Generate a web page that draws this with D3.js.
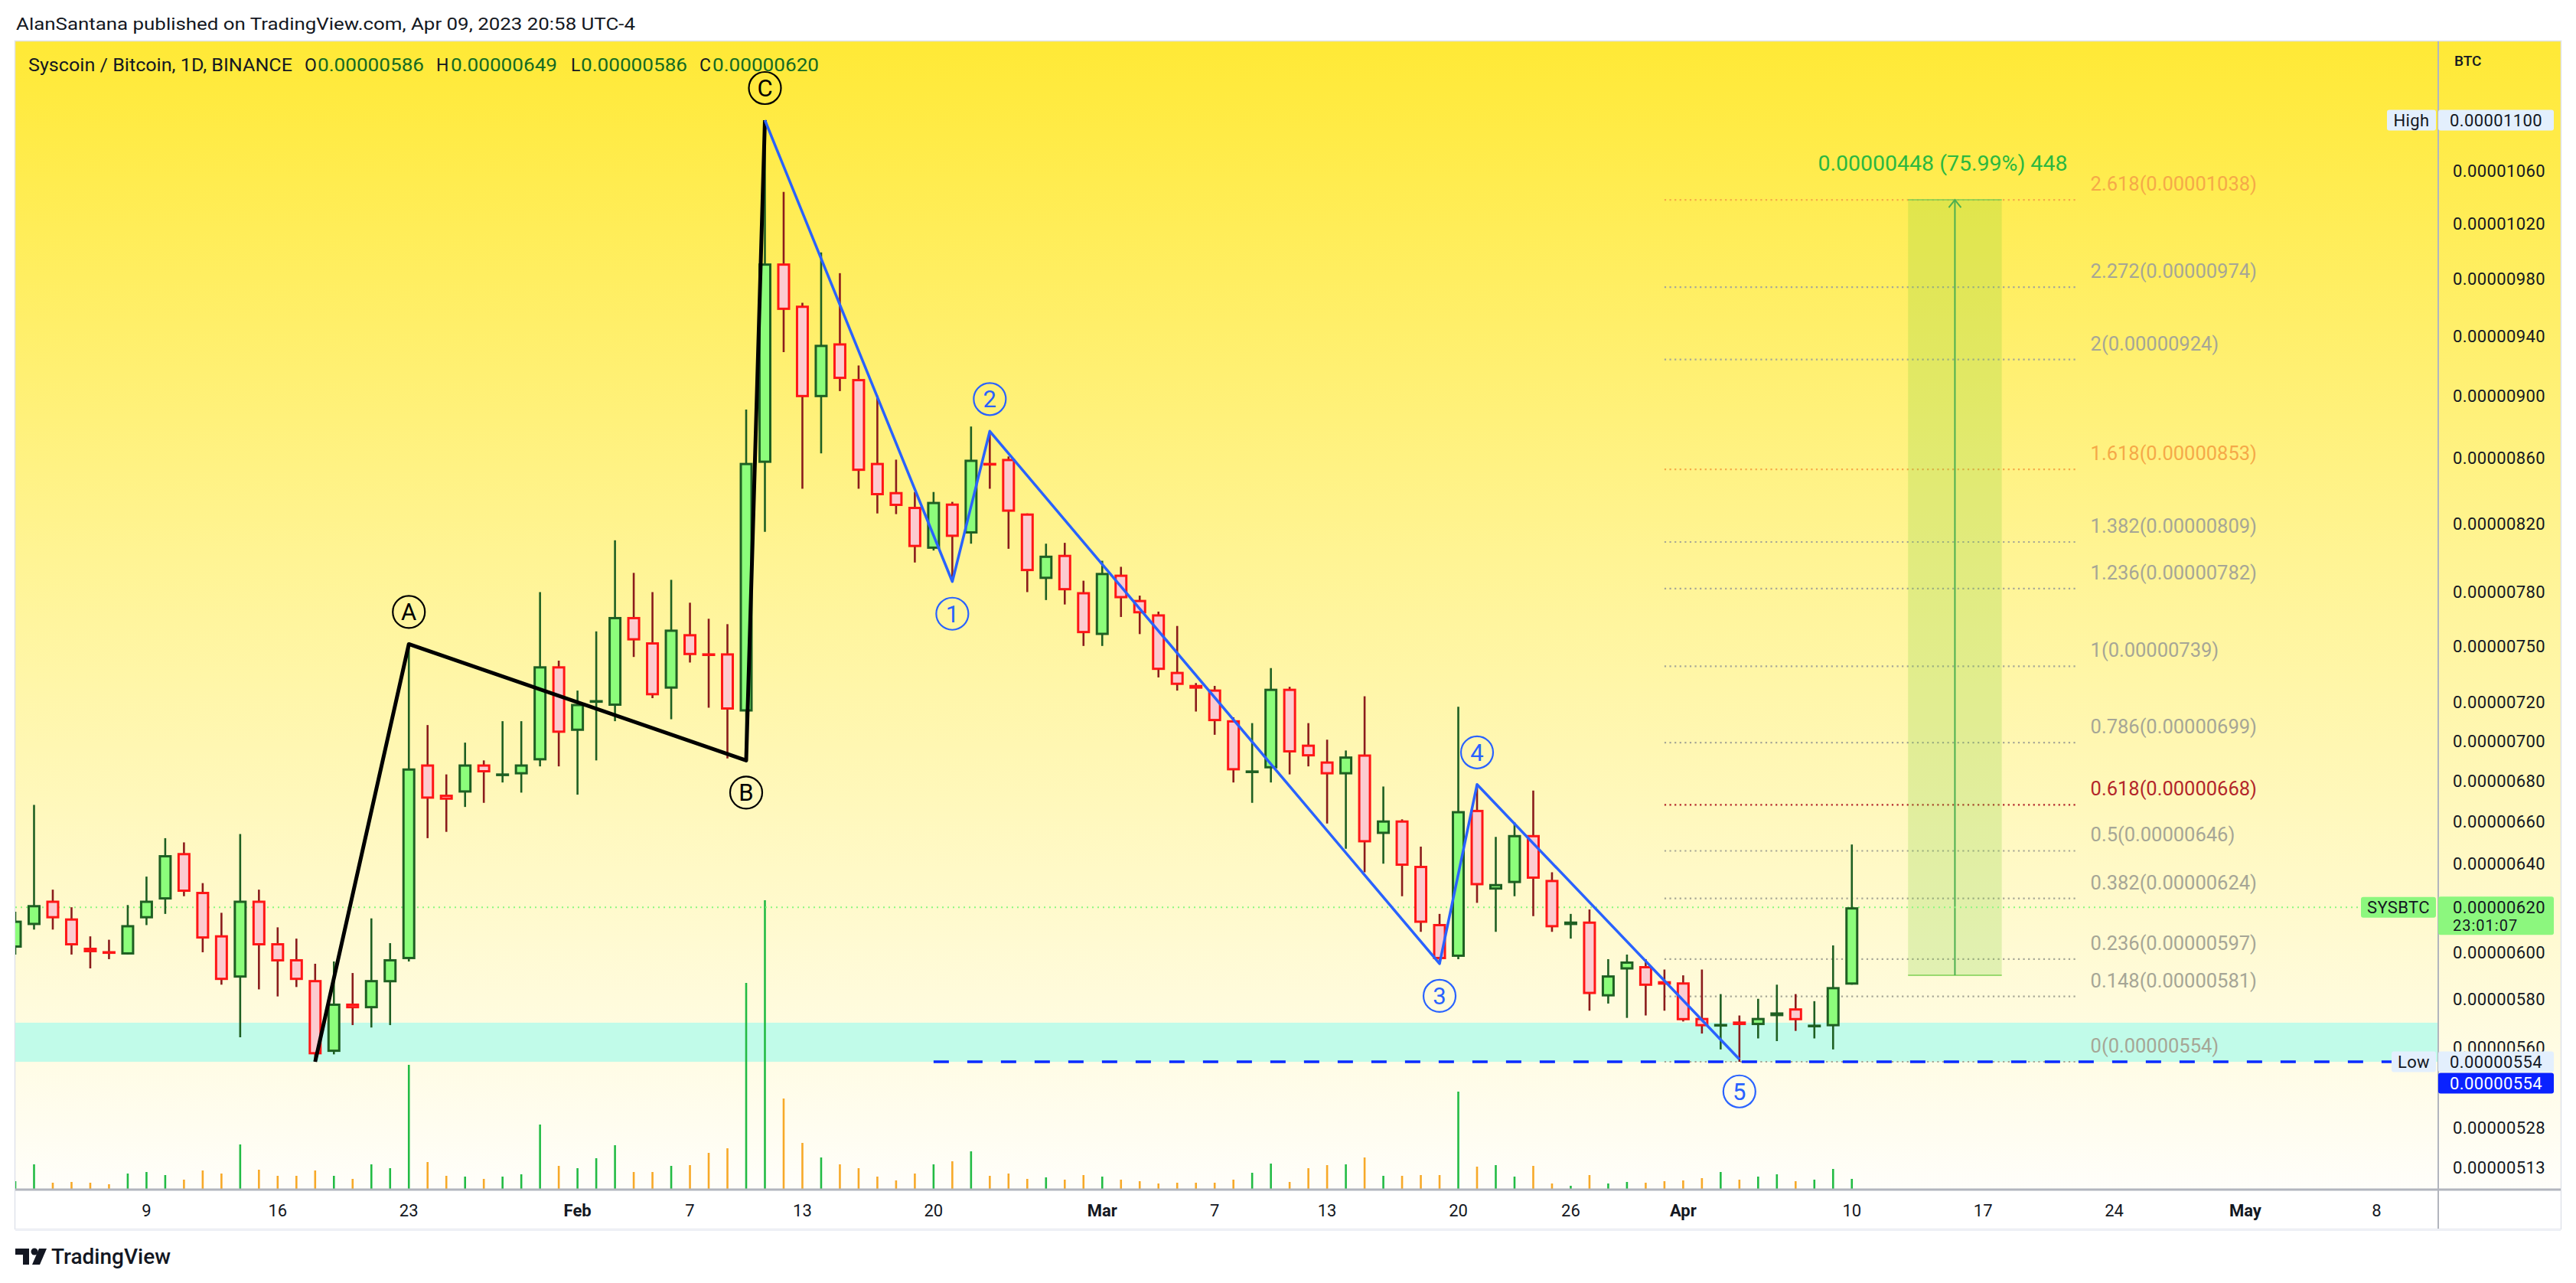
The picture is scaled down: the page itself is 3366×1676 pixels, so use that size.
<!DOCTYPE html>
<html><head><meta charset="utf-8">
<script src="https://cdn.jsdelivr.net/npm/d3@7"></script>
<style>html,body{margin:0;padding:0;background:#fff}svg{display:block}text{font-family:Roboto,"Noto Sans",sans-serif}</style>
</head><body>
<svg id="chart" width="3366" height="1676"></svg>
<script>
// ---------------- DATA (prices in satoshi: value x 1e-8 BTC) ----------------
const startDate = "2023-01-02";
const opens = [
 602,612,623,615,602,600.5,599,615,623.5,645,627,607.5,589,623,604,597,588,558,578,576,587,597,688,673,674,688,683,683,690,739,
 705,720,718,766,752,727,756.5,746,746,715,857,991,961,899,935,911,857,839,830,805,832,814,857,859.5,826,787.5,801.5,780,
 756,790,775.6,767.5,736,729,726.6,710.5,684.5,686,727,698,689.5,683,693,654,660.5,639,612.5,598,665.6,628,631,653.5,632.5,612,613.6,581,592.5,594,587.5,
 587,572,569,570.5,569,572.7,576,568.8,568.5,586];
const highs = [
 618,668,628,620,607,605.5,621,634,652,650,631,617.5,654,628,611,606,595,596,591,615,604,751,708,683,699,690,710,710,780,742,
 726,758,810,791,780,787,774,765,762,891,1100,1044,963,999,984,920,900,859,839,839,833,880,877,861,826,808,808.5,786.5,
 798,794.5,778,769,761,730,728.5,712,709,738,728,709,700.5,695,723,677,661,648,617,717.5,678,652.6,659.5,675,636,617,619,597,599,597,592.5,
 590,592.5,582,573,580,586,582,579,603,649];
const lows = [
 599,610,610,599,593,597,599,612,617,625,600,586,564,584,581,585,554,557,569,568,569,596,652,655,667,669,679,674,687,687,
 673,690,710,744,722,711,741,717,691,690,815,929,841,863,903,841,826,825.6,797,804,786,808,841,805,780,775.5,773,750,
 750,766,756.5,733,726,715,703,679,669,679,683,687,659,647,636,640,625,609,595,597,622,609,625,616,609,606,575,578,572,573,575,
 570.5,565.5,559,554,563.5,562.4,566.6,563.5,559,586];
const closes = [
 614,621,615,603,600,600,612,623,644,627,606,588,623,603,596,588,557,578,576,588,597,686,671,670.5,688,684,683.5,688,739,704,
 719,721,766,753,723.5,759,745,745,716,857,991,958,899,934,911,852,837,830.5,806,833,812,859,856,827,792,801,781,757,
 791,776.5,768,737,729,727,710,685,685,727,694,692,683,692,650,660.5,639,613,597,665,630,630.6,653.5,633,611,613.6,582,590,596,585.5,586,
 571,568.5,569.5,569,572,574.3,571,569.2,585,620];
const volumes = [
 10,32,8,9,8,6,20,22,18,12,24,20,58,25,17,17,24,17,13,32,27,162,35,17,16,13,16,19,84,30,
 27,40,57,22,22,30,31,47,53,269,377,118,60,41,32,27,16,11,20,32,36,49,17,20,13,15,12,18,
 16,12,10,7,8,8,8,12,21,33,9,27,31,32,41,17,17,18,18,127,29,31,16,30,7,4,18,7,9,8,10,
 11,14,22,12,16,19,10,12,26,13];

const priceTicks = [1100,1060,1020,980,940,900,860,820,780,750,720,700,680,660,640,620,600,580,560,528,513];
const timeTickDates  = ["2023-01-09","2023-01-16","2023-01-23","2023-02-01","2023-02-07","2023-02-13","2023-02-20","2023-03-01","2023-03-07","2023-03-13","2023-03-20","2023-03-26","2023-04-01","2023-04-10","2023-04-17","2023-04-24","2023-05-01","2023-05-08"];
const timeTickLabels = ["9","16","23","Feb","7","13","20","Mar","7","13","20","26","Apr","10","17","24","May","8"];

const abcDates  = ["2023-01-18","2023-01-23","2023-02-10","2023-02-11"];
const abcPrices = [554,751,690,1100];
const abcNames  = ["","A","B","C"];

const impulseDates  = ["2023-02-11","2023-02-21","2023-02-23","2023-03-19","2023-03-21","2023-04-04"];
const impulsePrices = [1100,786,877,595,678,555];
const impulseNames  = ["","1","2","3","4","5"];

const fibRatios = ["0","0.148","0.236","0.382","0.5","0.618","0.786","1","1.236","1.382","1.618","2","2.272","2.618"];
const fibPrices = [554,581,597,624,646,668,699,739,782,809,853,924,974,1038];
const fibStart = "2023-03-31", fibEnd = "2023-04-22";

const rangeStart = "2023-04-13", rangeEnd = "2023-04-18";
const rangeLow = 590, rangeHigh = 1038;
const rangeText = "0.00000448 (75.99%) 448";

const supportZone = [554,570];
const supportRayStart = "2023-02-20", supportRayPrice = 554;
const lastPrice = 620, highPrice = 1100, lowPrice = 554;

// ---------------- LAYOUT ----------------
const W = 3366, H = 1676;
const plotL = 20, plotT = 54, axisX = 3186, panelR = 3346, timeAxisY = 1554, panelB = 1605;
const svg = d3.select("#chart");
const fmt = v => d3.format(".8f")(v * 1e-8);
const parse = s => new Date(s + "T00:00:00Z");

const x = d3.scaleUtc().domain([parse("2023-01-02"), parse("2023-05-08")]).range([20, 3105.4]);
const y = d3.scaleLog().domain([554, 1100]).range([1387, 157]);
const yVol = d3.scaleLinear().domain([0, 377]).range([1553, 1176]);

const t0 = parse(startDate);
const data = opens.map((o, i) => ({date: d3.utcDay.offset(t0, i), o, h: highs[i], l: lows[i], c: closes[i], v: volumes[i]}));

const defs = svg.append("defs");
const grad = defs.append("linearGradient").attr("id", "bg").attr("x1", 0).attr("x2", 0).attr("y1", 0).attr("y2", 1);
grad.append("stop").attr("offset", "0%").attr("stop-color", "#ffe936");
grad.append("stop").attr("offset", "45%").attr("stop-color", "#fff494");
grad.append("stop").attr("offset", "100%").attr("stop-color", "#fffefa");
defs.append("clipPath").attr("id", "plotclip").append("rect")
  .attr("x", plotL).attr("y", plotT).attr("width", axisX - plotL).attr("height", timeAxisY - plotT);

// header texts
svg.append("text").attr("x", 21).attr("y", 39).attr("font-size", 22).attr("fill", "#131722")
  .attr("textLength", 809).attr("lengthAdjust", "spacingAndGlyphs")
  .text("AlanSantana published on TradingView.com, Apr 09, 2023 20:58 UTC-4");

// panel background
svg.append("rect").attr("x", plotL).attr("y", plotT).attr("width", panelR - plotL).attr("height", timeAxisY - plotT).attr("fill", "url(#bg)");
svg.append("rect").attr("x", plotL - 0.5).attr("y", plotT - 0.5).attr("width", panelR - plotL + 1).attr("height", panelB - plotT + 1)
  .attr("fill", "none").attr("stroke", "#e0e3eb").attr("stroke-width", 1.5);

const plot = svg.append("g").attr("clip-path", "url(#plotclip)");

// support zone
plot.append("rect").attr("x", plotL).attr("width", axisX - plotL)
  .attr("y", y(supportZone[1])).attr("height", y(supportZone[0]) - y(supportZone[1])).attr("fill", "#c1fbe9");

// volume
plot.append("g").selectAll("line").data(data).join("line")
  .attr("x1", d => x(d.date)).attr("x2", d => x(d.date))
  .attr("y1", yVol(0)).attr("y2", d => yVol(d.v))
  .attr("stroke", d => d.c >= d.o ? "#22bb44" : "#f7a928").attr("stroke-width", 2.6);

// fib levels
const fibColor = r => r === "0.618" ? "#b3262a" : (r === "1.618" || r === "2.618") ? "#f5a948" : "#a6a696";
const fibG = plot.append("g");
fibPrices.forEach((p, i) => {
  fibG.append("line").attr("x1", x(parse(fibStart))).attr("x2", x(parse(fibEnd)))
    .attr("y1", y(p)).attr("y2", y(p)).attr("stroke", fibColor(fibRatios[i])).attr("stroke-width", 2.2)
    .attr("stroke-dasharray", "2.2,4.4");
  fibG.append("text").attr("x", x(parse(fibEnd)) + 18).attr("y", y(p) - 12)
    .attr("font-size", 25.5).attr("fill", fibColor(fibRatios[i]))
    .text(`${fibRatios[i]}(${fmt(p)})`);
});

// price range measurement
const rx0 = x(parse(rangeStart)), rx1 = x(parse(rangeEnd)), rcx = (rx0 + rx1) / 2;
plot.append("rect").attr("x", rx0).attr("width", rx1 - rx0).attr("y", y(rangeHigh)).attr("height", y(rangeLow) - y(rangeHigh))
  .attr("fill", "rgba(120,205,50,0.22)");
[rangeLow, rangeHigh].forEach(p => plot.append("line").attr("x1", rx0).attr("x2", rx1).attr("y1", y(p)).attr("y2", y(p))
  .attr("stroke", "#7ccf52").attr("stroke-width", 1.5));
plot.append("line").attr("x1", rcx).attr("x2", rcx).attr("y1", y(rangeLow)).attr("y2", y(rangeHigh))
  .attr("stroke", "#4caf50").attr("stroke-width", 2);
plot.append("path").attr("d", `M${rcx - 8},${y(rangeHigh) + 10} L${rcx},${y(rangeHigh)} L${rcx + 8},${y(rangeHigh) + 10}`)
  .attr("fill", "none").attr("stroke", "#4caf50").attr("stroke-width", 2);
plot.append("text").attr("x", rcx - 16).attr("y", y(rangeHigh) - 38).attr("text-anchor", "middle")
  .attr("font-size", 28.5).attr("fill", "#2bb840").text(rangeText);

// last price dotted line
plot.append("line").attr("x1", plotL).attr("x2", 3085).attr("y1", y(lastPrice)).attr("y2", y(lastPrice))
  .attr("stroke", "#8cf77e").attr("stroke-width", 2).attr("stroke-dasharray", "2,5");

// support ray
plot.append("line").attr("x1", x(parse(supportRayStart))).attr("x2", axisX).attr("y1", y(supportRayPrice)).attr("y2", y(supportRayPrice))
  .attr("stroke", "#0a2aff").attr("stroke-width", 3.5).attr("stroke-dasharray", "20,24");

// candles
const cg = plot.append("g");
const bw = 17, sw = 3;
cg.selectAll("line").data(data).join("line")
  .attr("x1", d => x(d.date)).attr("x2", d => x(d.date))
  .attr("y1", d => y(d.h)).attr("y2", d => y(d.l))
  .attr("stroke", d => d.c >= d.o ? "#1e5f22" : "#8b1c1c").attr("stroke-width", 2.6);
cg.selectAll("rect").data(data).join("rect")
  .attr("x", d => x(d.date) - bw / 2 + sw / 2).attr("width", bw - sw)
  .attr("y", d => Math.min(y(d.o), y(d.c)) + sw / 2)
  .attr("height", d => Math.max(0.6, Math.abs(y(d.o) - y(d.c)) - sw))
  .attr("fill", d => d.c >= d.o ? "#8cfd7b" : "#fccbd0")
  .attr("stroke", d => d.c >= d.o ? "#1e5f22" : "#ff1616").attr("stroke-width", sw);

// waves
const line = d3.line().x(d => x(d[0])).y(d => y(d[1]));
plot.append("path").attr("d", line(abcDates.map((d, i) => [parse(d), abcPrices[i]])))
  .attr("fill", "none").attr("stroke", "#000").attr("stroke-width", 5).attr("stroke-linejoin", "round");
plot.append("path").attr("d", line(impulseDates.map((d, i) => [parse(d), impulsePrices[i]])))
  .attr("fill", "none").attr("stroke", "#2962ff").attr("stroke-width", 3.5).attr("stroke-linejoin", "round");

function waveLabels(dates, prices, names, color) {
  names.forEach((n, i) => {
    if (!n) return;
    const prev = prices[i - 1], next = prices[i + 1];
    const isPeak = (prev === undefined || prices[i] > prev) && (next === undefined || prices[i] > next);
    const cx = x(parse(dates[i])), cy = y(prices[i]) + (isPeak ? -42 : 42);
    const g = svg.append("g");
    g.append("circle").attr("cx", cx).attr("cy", cy).attr("r", 21).attr("fill", "none").attr("stroke", color).attr("stroke-width", 2.2);
    g.append("text").attr("x", cx).attr("y", cy + 11).attr("text-anchor", "middle").attr("font-size", 31).attr("fill", color).text(n);
  });
}
waveLabels(abcDates, abcPrices, abcNames, "#000");
waveLabels(impulseDates, impulsePrices, impulseNames, "#2962ff");

// header line (symbol + OHLC)
const last = data[data.length - 1];
const hdr = svg.append("g").attr("font-size", 23);
hdr.append("text").attr("x", 37).attr("y", 93).attr("fill", "#131722").attr("textLength", 345).attr("lengthAdjust", "spacingAndGlyphs")
  .text("Syscoin / Bitcoin, 1D, BINANCE");
[["O", last.o, 398, 415], ["H", last.h, 570, 589], ["L", last.l, 746, 759], ["C", last.c, 914, 931]].forEach(([k, v, kx, vx]) => {
  hdr.append("text").attr("x", kx).attr("y", 93).attr("fill", "#131722").text(k);
  hdr.append("text").attr("x", vx).attr("y", 93).attr("fill", "#136b22").attr("textLength", 139).attr("lengthAdjust", "spacingAndGlyphs").text(fmt(v));
});

// price axis
svg.append("line").attr("x1", axisX).attr("x2", axisX).attr("y1", plotT).attr("y2", panelB).attr("stroke", "#b2b5be").attr("stroke-width", 2);
svg.append("text").attr("x", 3207).attr("y", 86).attr("font-size", 19).attr("font-weight", 500).attr("fill", "#131722").text("BTC");
svg.append("g").selectAll("text").data(priceTicks).join("text")
  .attr("x", 3205).attr("y", d => y(d) + 8).attr("font-size", 22).attr("fill", "#131722").attr("letter-spacing", 0.4)
  .text(d => fmt(d));

function tag(x0, x1, yc, h, bg, txt, col) {
  svg.append("rect").attr("x", x0).attr("y", yc - h / 2).attr("width", x1 - x0).attr("height", h).attr("rx", 3).attr("fill", bg);
  svg.append("text").attr("x", (x0 + x1) / 2).attr("y", yc + 8).attr("text-anchor", "middle").attr("font-size", 22)
    .attr("letter-spacing", 0.4).attr("fill", col).text(txt);
}
tag(3119, 3183, y(highPrice), 27, "#e3effd", "High", "#131722");
tag(3186, 3337, y(highPrice), 27, "#e3effd", fmt(highPrice), "#131722");
// last price
tag(3085, 3183, y(lastPrice), 27, "#8cf77e", "SYSBTC", "#131722");
svg.append("rect").attr("x", 3186).attr("y", y(lastPrice) - 14).attr("width", 151).attr("height", 50).attr("rx", 3).attr("fill", "#8cf77e");
svg.append("text").attr("x", 3205).attr("y", y(lastPrice) + 8).attr("font-size", 22).attr("letter-spacing", 0.4).attr("fill", "#131722").text(fmt(lastPrice));
svg.append("text").attr("x", 3205).attr("y", y(lastPrice) + 31).attr("font-size", 20).attr("letter-spacing", 1).attr("fill", "#131722").text("23:01:07");
// low
tag(3125, 3183, y(lowPrice), 27, "#e3effd", "Low", "#131722");
tag(3186, 3337, y(lowPrice), 27, "#e3effd", fmt(lowPrice), "#131722");
tag(3186, 3337, y(lowPrice) + 28, 27, "#0a22ff", fmt(supportRayPrice), "#ffffff");

// time axis
svg.append("line").attr("x1", plotL).attr("x2", panelR).attr("y1", timeAxisY).attr("y2", timeAxisY).attr("stroke", "#b2b5be").attr("stroke-width", 3);
svg.append("rect").attr("x", plotL).attr("y", panelB).attr("width", panelR - plotL).attr("height", 3).attr("fill", "#eef0f5");
svg.append("g").selectAll("text").data(timeTickDates).join("text")
  .attr("x", d => x(parse(d))).attr("y", 1589).attr("text-anchor", "middle").attr("font-size", 22)
  .attr("font-weight", (d, i) => isNaN(+timeTickLabels[i]) ? 700 : 400).attr("fill", "#131722")
  .text((d, i) => timeTickLabels[i]);

// TradingView logo
const lg = svg.append("g").attr("fill", "#131722");
lg.append("path").attr("d", "M20 1631 h18 v21 h-8 v-13 h-10 z");
lg.append("circle").attr("cx", 45).attr("cy", 1635).attr("r", 4.5);
lg.append("path").attr("d", "M51 1631 h10 l-9 21 h-10 z");
svg.append("text").attr("x", 67).attr("y", 1651).attr("font-size", 28).attr("font-weight", 500).attr("fill", "#131722").text("TradingView");
</script>
</body></html>
